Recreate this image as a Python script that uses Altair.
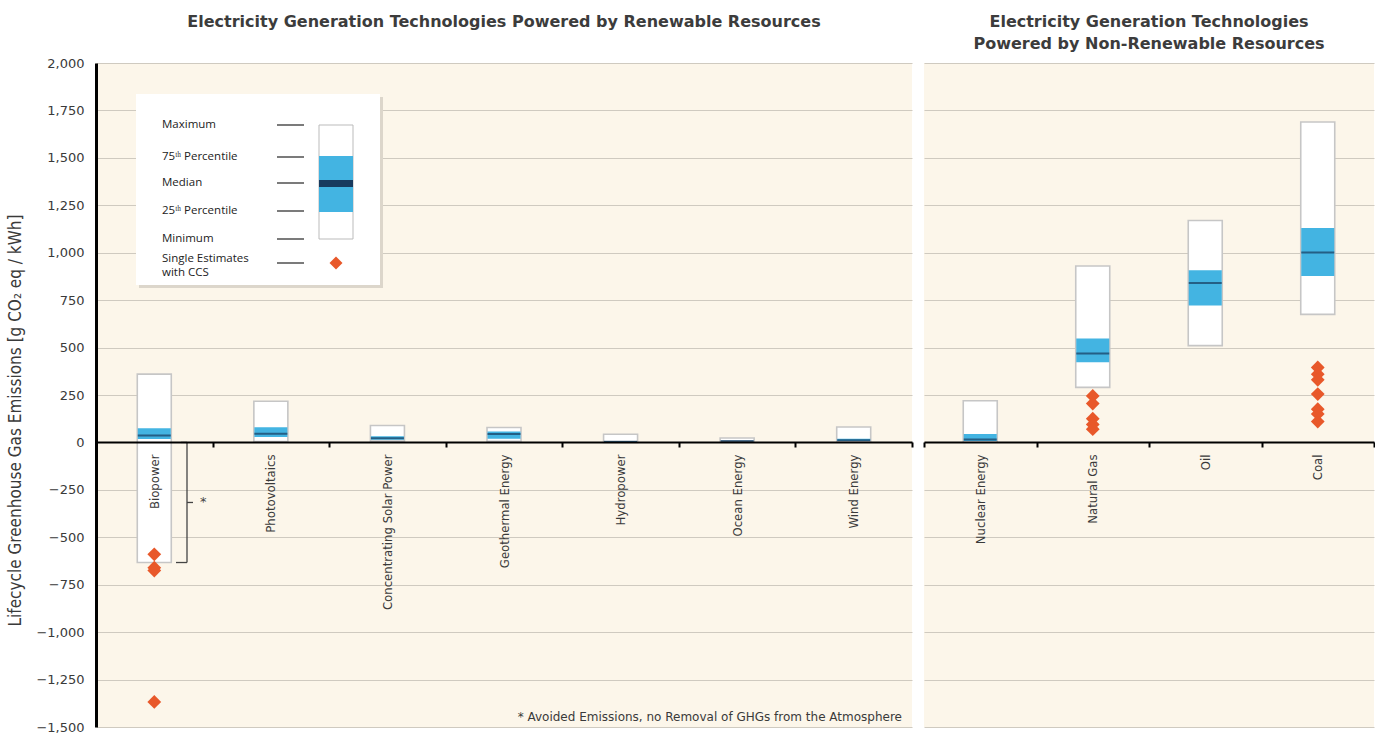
import altair as alt
import pandas as pd

# ---------------- data ----------------
renewable = ["Biopower", "Photovoltaics", "Concentrating Solar Power", "Geothermal Energy",
             "Hydropower", "Ocean Energy", "Wind Energy"]
nonrenewable = ["Nuclear Energy", "Natural Gas", "Oil", "Coal"]
techs = renewable + nonrenewable

minimum = [-633, 5, 7, 6, 0, 2, 2, 1, 290, 510, 675]
pct25 = [18, 29, 14, 20, 3, 6, 8, 8, 422, 722, 877]
median = [37, 46, 22, 45, 4, 8, 12, 16, 469, 840, 1001]
pct75 = [75, 80, 32, 57, 7, 9, 20, 45, 548, 907, 1130]
maximum = [360, 217, 89, 79, 43, 23, 81, 220, 930, 1170, 1689]

ccs_tech = ["Biopower"] * 4 + ["Natural Gas"] * 5 + ["Coal"] * 7
ccs_value = [-590, -660, -675, -1368,
             245, 205, 125, 95, 70,
             395, 360, 330, 255, 175, 150, 110]

y_ticks = list(range(-1500, 2001, 250))

legend_labels = ["Maximum", "75ᵗʰ Percentile", "Median", "25ᵗʰ Percentile", "Minimum",
                 "Single Estimates", "with CCS"]

title_left = "Electricity Generation Technologies Powered by Renewable Resources"
title_right = ["Electricity Generation Technologies", "Powered by Non-Renewable Resources"]
y_title = "Lifecycle Greenhouse Gas Emissions [g CO₂ eq / kWh]"
footnote = "* Avoided Emissions, no Removal of GHGs from the Atmosphere"

stats = pd.DataFrame({"tech": techs, "min": minimum, "p25": pct25, "med": median,
                      "p75": pct75, "max": maximum})
ccs = pd.DataFrame({"tech": ccs_tech, "value": ccs_value})

# ---------------- styling ----------------
H = 664
WL = 816
WR = 450
YMIN, YMAX = -1500, 2000
ZERO_OFFSET = -round(H * (0 - YMIN) / (YMAX - YMIN))

NARROW = "'Liberation Sans Narrow', 'DejaVu Sans Condensed', Roboto, sans-serif"
BG = "#FCF6EA"
GRID = "#CFCAC0"
BLUE = "#43B4E2"
NAVY = "#173A5E"
ORANGE = "#E8582A"
BOXSTROKE = "#C6C6C6"
TXT = "#3A3A3A"

yscale = alt.Scale(domain=[YMIN, YMAX], nice=False, zero=False)


def x_enc(domain):
    return alt.X(
        "tech:N", sort=domain,
        scale=alt.Scale(domain=domain, paddingInner=0, paddingOuter=0),
        axis=alt.Axis(
            title=None, orient="bottom", offset=ZERO_OFFSET, zindex=1,
            labelAngle=270, labelAlign="right", labelBaseline="middle",
            labelPadding=7, labelFont=NARROW, labelFontSize=13,
            labelColor=TXT, labelLimit=300,
            tickBand="extent", tickSize=5, tickWidth=2, tickColor="black",
            domainColor="black", domainWidth=2,
        ),
    )


def panel(domain, width, title, left):
    s = stats[stats.tech.isin(domain)]
    c = ccs[ccs.tech.isin(domain)]
    if left:
        yaxis = alt.Axis(
            title=y_title, values=y_ticks, format=",d", grid=True, gridColor=GRID,
            gridWidth=1.2, ticks=False, domainColor="black", domainWidth=3,
            labelFont="DejaVu Sans", labelFontSize=13, labelColor=TXT, labelPadding=12,
            titleFont=NARROW, titleFontSize=17, titleFontWeight="normal",
            titleColor=TXT, titleAngle=270, titleAlign="center", titleBaseline="bottom",
            titleX=-72, titleY=357,
        )
    else:
        yaxis = alt.Axis(title=None, values=y_ticks, grid=True, gridColor=GRID,
                         gridWidth=1.2, ticks=False, labels=False, domain=False,
                         labelPadding=0, minExtent=0, maxExtent=0)

    base = alt.Chart(s).encode(x=x_enc(domain))
    box = base.mark_bar(size=34, color="white", stroke=BOXSTROKE, strokeWidth=1.6).encode(
        y=alt.Y("min:Q", scale=yscale, axis=yaxis), y2="max:Q")
    iqr = base.mark_bar(size=33, color=BLUE).encode(y=alt.Y("p25:Q"), y2="p75:Q")
    med = base.mark_tick(size=33, thickness=2, color=NAVY).encode(y=alt.Y("med:Q"))
    layers = [box, iqr, med]
    if len(c):
        pts = alt.Chart(c).mark_point(shape="diamond", filled=True, size=190, color=ORANGE,
                                      opacity=1).encode(x=x_enc(domain), y=alt.Y("value:Q"))
        layers.append(pts)

    if left:
        one = alt.Data(values=[{"a": 1}])
        bio_min = minimum[0]
        # bracket for avoided emissions
        layers += [
            alt.Chart(one).mark_rule(color="#444", strokeWidth=1.3).encode(
                x=alt.value(91), y=alt.datum(0), y2=alt.datum(bio_min)),
            alt.Chart(one).mark_rule(color="#444", strokeWidth=1.3).encode(
                x=alt.value(85), x2=alt.value(91), y=alt.datum(0)),
            alt.Chart(one).mark_rule(color="#444", strokeWidth=1.3).encode(
                x=alt.value(80), x2=alt.value(91), y=alt.datum(bio_min)),
            alt.Chart(one).mark_rule(color="#444", strokeWidth=1.3).encode(
                x=alt.value(91), x2=alt.value(97), y=alt.datum(bio_min / 2)),
            alt.Chart(one).mark_text(text="*", font="DejaVu Sans", fontSize=13, color="#444",
                                     align="left", baseline="middle").encode(
                x=alt.value(104), y=alt.datum(bio_min / 2)),
        ]
        # footnote
        layers.append(alt.Chart(one).mark_text(
            text=footnote, font="DejaVu Sans", fontSize=12, color=TXT,
            align="right", baseline="middle").encode(x=alt.value(WL - 10), y=alt.value(H - 10)))
        # legend
        layers += [
            alt.Chart(one).mark_rect(color="#DCD6CB").encode(
                x=alt.value(43), x2=alt.value(287), y=alt.value(34), y2=alt.value(225)),
            alt.Chart(one).mark_rect(color="white").encode(
                x=alt.value(40), x2=alt.value(284), y=alt.value(31), y2=alt.value(222)),
        ]
        label_y = [62, 94, 120, 148, 176, 196, 210]
        line_y = [62, 94, 120, 148, 176, 200]
        for lab, ly in zip(legend_labels, label_y):
            layers.append(alt.Chart(one).mark_text(
                text=lab, font="Open Sans", fontSize=11.5, color="#222",
                align="left", baseline="middle").encode(x=alt.value(66), y=alt.value(ly)))
        for ly in line_y:
            layers.append(alt.Chart(one).mark_rule(color="#333", strokeWidth=1.3).encode(
                x=alt.value(181), x2=alt.value(208), y=alt.value(ly)))
        layers += [
            alt.Chart(one).mark_rect(color="white", stroke="#BBBBBB", strokeWidth=1).encode(
                x=alt.value(223), x2=alt.value(257), y=alt.value(62), y2=alt.value(176)),
            alt.Chart(one).mark_rect(color=BLUE).encode(
                x=alt.value(223), x2=alt.value(257), y=alt.value(93), y2=alt.value(149)),
            alt.Chart(one).mark_rect(color=NAVY).encode(
                x=alt.value(223), x2=alt.value(257), y=alt.value(117), y2=alt.value(124)),
            alt.Chart(one).mark_point(shape="diamond", filled=True, size=170, color=ORANGE,
                                      opacity=1).encode(x=alt.value(240), y=alt.value(200)),
        ]

    return alt.layer(*layers).properties(width=width, height=H, title=title)


left = panel(renewable, WL, alt.TitleParams(
    title_left, font="DejaVu Sans", fontSize=16, fontWeight="bold", color="#3C3C3C",
    anchor="middle", offset=27), True)
right = panel(nonrenewable, WR, alt.TitleParams(
    title_right, font="DejaVu Sans", fontSize=16, fontWeight="bold", color="#3C3C3C",
    anchor="middle", offset=11, lineHeight=22), False)

chart = alt.hconcat(left, right, spacing=5).properties(
    background="white",
    padding={"left": 6, "top": 14, "right": 0, "bottom": 0},
).configure_view(fill=BG, stroke=None)

chart.save("out.html", embed_options={"renderer": "svg", "actions": False})
